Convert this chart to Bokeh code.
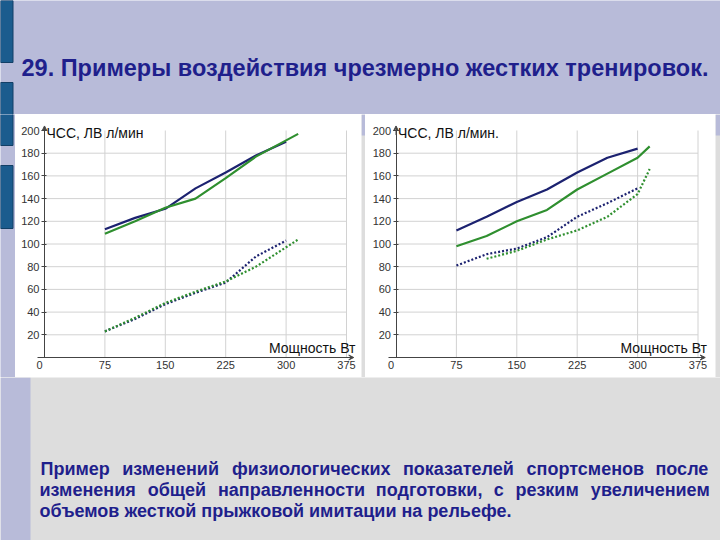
from bokeh.plotting import figure
from bokeh.layouts import column, row
from bokeh.models import Range1d, LinearAxis, FixedTicker, Label, Arrow, VeeHead
from bokeh.core.properties import value
from bokeh.embed import file_html
from bokeh.resources import INLINE

# ---------------- data ----------------
TITLE = "29. Примеры воздействия чрезмерно жестких тренировок."
X_TICKS = [75, 150, 225, 300, 375]
Y_TICKS = [20, 40, 60, 80, 100, 120, 140, 160, 180, 200]
Y_GRID = [20, 40, 60, 80, 100, 120, 140, 160, 180]
X_LABEL = "Мощность Вт"
Y_LABEL_LEFT = "ЧСС, ЛВ л/мин"
Y_LABEL_RIGHT = "ЧСС, ЛВ л/мин."

# left chart
L_NAVY_X = [75, 112.5, 150, 187.5, 225, 262.5, 300]
L_NAVY_Y = [113, 123, 131, 149, 163, 178, 190]
L_GREEN_X = [75, 112.5, 150, 187.5, 225, 262.5, 315]
L_GREEN_Y = [109, 120, 132, 140, 158, 177, 197]
L_NAVY_DOT_X = [75, 112.5, 150, 187.5, 225, 262.5, 300]
L_NAVY_DOT_Y = [23, 34, 47, 57, 66, 89, 103]
L_GREEN_DOT_X = [75, 112.5, 150, 187.5, 225, 262.5, 315]
L_GREEN_DOT_Y = [23, 35, 48, 58, 67, 80, 104]

# right chart
R_NAVY_X = [75, 112.5, 150, 187.5, 225, 262.5, 300]
R_NAVY_Y = [112, 124, 137, 148, 163, 176, 184]
R_GREEN_X = [75, 112.5, 150, 187.5, 225, 262.5, 300, 315]
R_GREEN_Y = [98, 107, 120, 130, 148, 162, 176, 186]
R_NAVY_DOT_X = [75, 112.5, 150, 187.5, 225, 262.5, 300]
R_NAVY_DOT_Y = [81, 91, 96, 106, 124, 136, 149]
R_GREEN_DOT_X = [112.5, 150, 187.5, 225, 262.5, 300, 315]
R_GREEN_DOT_Y = [87, 94, 104, 112, 124, 144, 166]

# caption lines (first two are justified in the original)
CAP_L1 = ["Пример", "изменений", "физиологических", "показателей", "спортсменов", "после"]
CAP_L2 = ["изменения", "общей", "направленности", "подготовки,", "с", "резким", "увеличением"]
CAP_L3 = "объемов  жесткой прыжковой имитации на рельефе."

# ---------------- styles ----------------
LAV = "#b8bbd9"
GRAY = "#dddddd"
BLUE = "#1b5c8e"
BLUE_EDGE = "#123f66"
TEXT_BLUE = "#1f1f8c"
NAVY = "#1c2270"
GREEN = "#2f8f2f"
GRID = "#d2d2d2"
AX = "#444444"
FONT = "Liberation Sans"
CAP_SIZE = 18

# approximate advance widths (1/1000 em) of the bold sans face, for justification
_W = {"а": 556, "б": 611, "в": 569, "г": 390, "д": 629, "е": 556, "ж": 799, "з": 509,
      "и": 611, "й": 611, "к": 540, "л": 611, "м": 717, "н": 611, "о": 611, "п": 611,
      "р": 611, "с": 556, "т": 440, "у": 556, "ф": 816, "х": 556, "ц": 623, "ч": 581,
      "ш": 848, "щ": 866, "ъ": 681, "ы": 816, "ь": 569, "э": 556, "ю": 841, "я": 581,
      "П": 722, ",": 278, ".": 278, " ": 278}


def word_w(wd, size):
    return sum(_W.get(c, 600) for c in wd) * size / 1000.0


def justify(words, x0, x1, size):
    ws = [word_w(w, size) for w in words]
    g = (x1 - x0 - sum(ws)) / (len(words) - 1)
    xs, cur = [], x0
    for w in ws:
        xs.append(cur)
        cur += w + g
    return xs


def blank(w, h, x0, x1, ytop, ybot, bg):
    p = figure(width=w, height=h, output_backend="svg", toolbar_location=None,
               x_range=Range1d(x0, x1), y_range=Range1d(ybot, ytop),
               x_axis_type=None, y_axis_type=None, min_border=0,
               outline_line_color=None, background_fill_color=bg,
               border_fill_color=bg)
    p.grid.visible = False
    return p


# header (page y 0..114)
head = blank(720, 114, 0, 720, 0, 114, LAV)
head.quad(left=[0, 0], right=[12.5, 12.5], top=[0, 82], bottom=[62, 145],
          fill_color=BLUE, line_color=BLUE_EDGE, line_width=1)
head.text(x=[21], y=[67], text=[TITLE], text_font=value(FONT), text_font_style="bold",
          text_font_size="23.5px", text_color=TEXT_BLUE, text_baseline="middle",
          text_align="left")

# left strip (page x 0..15, y 114..377)
strip = blank(15, 263, 0, 15, 114, 377, LAV)
strip.quad(left=[0, 0], right=[12.5, 12.5], top=[82, 165], bottom=[145, 228],
           fill_color=BLUE, line_color=BLUE_EDGE, line_width=1)


def gap(w):
    g = blank(w, 263, 0, w, 114, 377, GRAY)
    g.quad(left=[0], right=[w], top=[114], bottom=[135], fill_color=LAV, line_color=None)
    return g


def chart(w, zero_px, ylabel, series):
    sx = 60.4 / 75.0
    sy = 1.135
    zero_py = 243.0
    h = 263
    p = figure(width=w, height=h, output_backend="svg", toolbar_location=None,
               x_range=Range1d(-zero_px / sx, (w - zero_px) / sx),
               y_range=Range1d(-(h - zero_py) / sy, zero_py / sy),
               x_axis_type=None, y_axis_type=None, min_border=0,
               outline_line_color=None, background_fill_color="white",
               border_fill_color="white")
    p.grid.visible = False
    nx = len(X_TICKS)
    ny = len(Y_GRID)
    p.segment(x0=X_TICKS, y0=[0] * nx, x1=X_TICKS, y1=[200] * nx,
              line_color=GRID, line_width=1)
    p.segment(x0=[0] * ny, y0=Y_GRID, x1=[375] * ny, y1=Y_GRID,
              line_color=GRID, line_width=1)

    yax = LinearAxis(fixed_location=0, ticker=FixedTicker(ticks=Y_TICKS), bounds=(0, 203),
                     axis_line_color=AX, major_tick_line_color=AX, major_tick_in=2,
                     major_tick_out=3, minor_tick_line_color=None,
                     major_label_text_font=FONT, major_label_text_font_size="11px",
                     major_label_text_color="#333333", major_label_standoff=2)
    p.add_layout(yax, "left")
    xax = LinearAxis(fixed_location=0, ticker=FixedTicker(ticks=X_TICKS), bounds=(-9, 382),
                     axis_line_color=AX, major_tick_line_color=None, major_tick_in=0,
                     major_tick_out=0, minor_tick_line_color=None,
                     major_label_text_font=FONT, major_label_text_font_size="11px",
                     major_label_text_color="#333333", major_label_standoff=3)
    p.add_layout(xax, "below")

    p.add_layout(Arrow(end=VeeHead(size=5, line_color=AX, fill_color=AX, line_width=1),
                       x_start=0, y_start=196, x_end=0, y_end=204,
                       line_color=AX, line_width=1))
    p.add_layout(Arrow(end=VeeHead(size=5, line_color=AX, fill_color=AX, line_width=1),
                       x_start=376, y_start=0, x_end=384, y_end=0,
                       line_color=AX, line_width=1))

    for xs, ys, col, dash in series:
        p.line(xs, ys, line_color=col, line_width=2.2, line_dash=dash)

    p.add_layout(Label(x=0, y=200, text=ylabel, x_offset=2, y_offset=-2,
                       text_baseline="middle", text_align="left",
                       text_font=FONT, text_font_size="14px", text_color="#111111"))
    p.add_layout(Label(x=375, y=0, text=X_LABEL, x_offset=9, y_offset=10,
                       text_baseline="middle", text_align="right",
                       text_font=FONT, text_font_size="14px", text_color="#111111"))
    p.add_layout(Label(x=0, y=0, text="0", x_offset=-5, y_offset=-7,
                       text_baseline="middle", text_align="center",
                       text_font=FONT, text_font_size="11px", text_color="#333333"))
    return p


left = chart(346, 29.0, Y_LABEL_LEFT, [
    (L_NAVY_X, L_NAVY_Y, NAVY, "solid"),
    (L_GREEN_X, L_GREEN_Y, GREEN, "solid"),
    (L_NAVY_DOT_X, L_NAVY_DOT_Y, NAVY, "2 2"),
    (L_GREEN_DOT_X, L_GREEN_DOT_Y, GREEN, "2 2"),
])
right = chart(350, 30.5, Y_LABEL_RIGHT, [
    (R_NAVY_X, R_NAVY_Y, NAVY, "solid"),
    (R_GREEN_X, R_GREEN_Y, GREEN, "solid"),
    (R_NAVY_DOT_X, R_NAVY_DOT_Y, NAVY, "2 2"),
    (R_GREEN_DOT_X, R_GREEN_DOT_Y, GREEN, "2 2"),
])

mid = row(strip, left, gap(4), right, gap(5), spacing=0)

# bottom (page y 377..540)
bottom = blank(720, 163, 0, 720, 377, 540, GRAY)
bottom.quad(left=[0], right=[30], top=[377], bottom=[540], fill_color=LAV, line_color=None)

x1 = justify(CAP_L1, 40, 708, CAP_SIZE)
x2 = justify(CAP_L2, 39, 708, CAP_SIZE)
words = CAP_L1 + CAP_L2 + [CAP_L3]
wx = x1 + x2 + [39]
wy = [468] * len(CAP_L1) + [489] * len(CAP_L2) + [510]
bottom.text(x=wx, y=wy, text=words, text_font=value(FONT), text_font_style="bold",
            text_font_size=f"{CAP_SIZE}px", text_color=TEXT_BLUE, text_baseline="middle",
            text_align="left")

layout = column(head, mid, bottom, spacing=0)
open("out.html", "w").write(file_html(layout, INLINE))
